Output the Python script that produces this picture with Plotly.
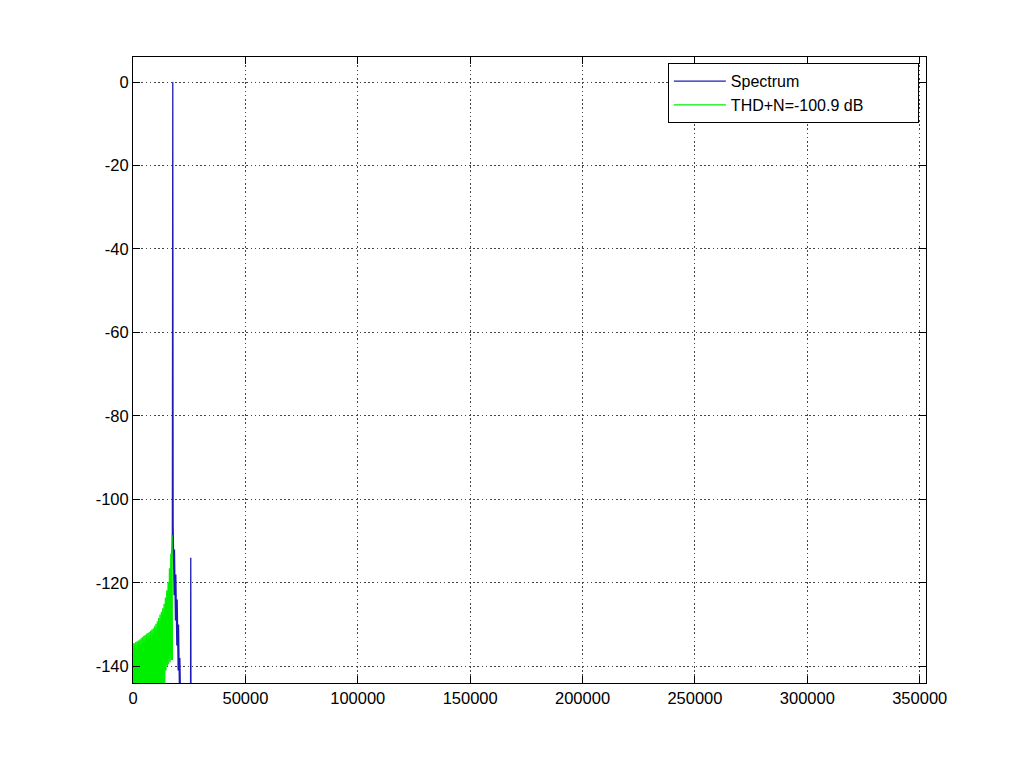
import plotly.graph_objects as go

# ---- data ----
spec_freq = [0, 2000, 4000, 6000, 8000, 10000, 12000, 14000, 16000, 17000, 17500,
             17700, 17850, 18000, 18150, 18300, 18450, 18600, 18750, 18900, 19050,
             19200, 19350, 19500, 19650, 19800, 19950, 20100, 20250, 20400, 20550,
             20700, 20850, 21200, 25600, 25700, 25800, 30000, 100000, 200000,
             300000, 352800]
spec_db = [-140, -139, -138, -137, -136, -134, -132, -130, -125, -118, -110,
           0, -106, -120, -109, -123, -112, -126, -115, -129, -118,
           -132, -121, -135, -124, -138, -127, -141, -130, -144, -133,
           -147, -138, -150, -150, -114, -150, -150, -150, -150,
           -150, -150]

thd_freq = [0, 300, 600, 900, 1200, 1500, 1800, 2100, 2400, 2700,
            3000, 3300, 3600, 3900, 4200, 4500, 4800, 5100, 5400, 5700,
            6000, 6300, 6600, 6900, 7200, 7500, 7800, 8100, 8400, 8700,
            9000, 9300, 9600, 9900, 10200, 10500, 10800, 11100, 11400, 11700,
            12000, 12300, 12600, 12900, 13200, 13500, 13800, 14100, 14400, 14700,
            15000, 15300, 15600, 15900, 16200, 16500, 16800, 17100, 17400, 17550]
thd_db = [-134.4, -150, -134.5, -150, -134.2, -150, -134.0, -150, -133.8, -150,
          -133.6, -150, -133.3, -150, -133.0, -150, -132.7, -150, -132.5, -150,
          -132.2, -150, -132.0, -150, -131.8, -150, -131.5, -150, -131.2, -150,
          -130.9, -150, -130.4, -150, -129.8, -150, -129.2, -150, -128.4, -150,
          -127.6, -150, -126.9, -150, -126.1, -150, -125.0, -148, -123.5, -141,
          -121.8, -140, -119.8, -139.5, -116.5, -139, -113.0, -138.5, -108.6, -138.5]

x_tick_vals = [0, 50000, 100000, 150000, 200000, 250000, 300000, 350000]
x_tick_text = ["0", "50000", "100000", "150000", "200000", "250000", "300000", "350000"]
y_tick_vals = [0, -20, -40, -60, -80, -100, -120, -140]
y_tick_text = ["0", "-20", "-40", "-60", "-80", "-100", "-120", "-140"]

series_names = ["Spectrum", "THD+N=-100.9 dB"]

FONT = "Liberation Sans, Arial, Helvetica, sans-serif"
PAD = "\u00a0" * 11

fig = go.Figure()
fig.add_trace(go.Scatter(x=spec_freq, y=spec_db, mode="lines", name=series_names[0],
                         line=dict(color="#1c1cb4", width=1.3)))
fig.add_trace(go.Scatter(x=thd_freq, y=thd_db, mode="lines", name=series_names[1] + PAD,
                         line=dict(color="#00ee00", width=1.2)))

axis_common = dict(
    showline=True, linecolor="black", linewidth=1, mirror="ticks",
    ticks="inside", ticklen=7, tickcolor="black", tickwidth=1,
    showgrid=True, gridcolor="#444444", gridwidth=1, griddash="1.5px,2.7px",
    zeroline=False, tickfont=dict(family=FONT, size=16.5, color="black"),
)

fig.update_xaxes(range=[0, 352800], tickmode="array", tickvals=x_tick_vals,
                 ticktext=x_tick_text, **axis_common)
fig.update_yaxes(range=[-144, 6], tickmode="array", tickvals=y_tick_vals,
                 ticktext=y_tick_text, **axis_common)

fig.update_layout(
    width=1024, height=768,
    margin=dict(l=125, r=106, t=49, b=93),
    paper_bgcolor="white", plot_bgcolor="white",
    font=dict(family=FONT, size=16.5, color="black"),
    showlegend=True,
    legend=dict(x=0.991, y=0.990, xanchor="right", yanchor="top",
                bgcolor="white", bordercolor="black", borderwidth=1,
                itemwidth=52, font=dict(family=FONT, size=16, color="black"),
                tracegroupgap=0),
)

fig.write_html("out.html")
